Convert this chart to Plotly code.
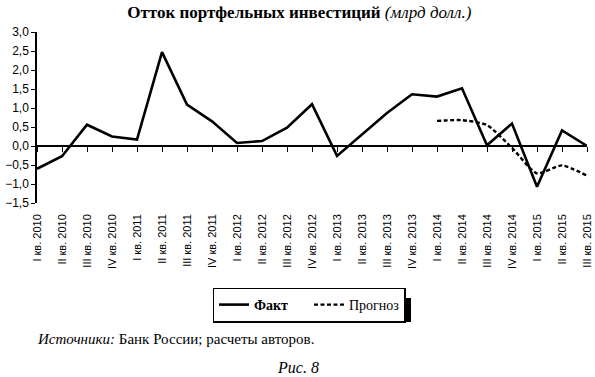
import plotly.graph_objects as go

quarters = ["I кв. 2010", "II кв. 2010", "III кв. 2010", "IV кв. 2010",
            "I кв. 2011", "II кв. 2011", "III кв. 2011", "IV кв. 2011",
            "I кв. 2012", "II кв. 2012", "III кв. 2012", "IV кв. 2012",
            "I кв. 2013", "II кв. 2013", "III кв. 2013", "IV кв. 2013",
            "I кв. 2014", "II кв. 2014", "III кв. 2014", "IV кв. 2014",
            "I кв. 2015", "II кв. 2015", "III кв. 2015"]
fact = [-0.6, -0.27, 0.56, 0.25, 0.17, 2.47, 1.09, 0.65, 0.08, 0.13, 0.48, 1.1,
        -0.26, 0.3, 0.87, 1.36, 1.3, 1.52, 0.02, 0.59, -1.07, 0.41, 0.0]
forecast_q = quarters[16:]
forecast = [0.66, 0.68, 0.55, -0.05, -0.72, -0.51, -0.78]
yticks = [-1.5, -1.0, -0.5, 0.0, 0.5, 1.0, 1.5, 2.0, 2.5, 3.0]

SERIF = "Liberation Serif, Times New Roman, serif"
SANS = "Liberation Sans, Arial, sans-serif"

fig = go.Figure()
# invisible carrier trace so that the category labels axis is drawn
fig.add_trace(go.Scatter(x=quarters, y=fact, mode="lines", showlegend=False,
                         hoverinfo="skip", opacity=0, line=dict(width=0)))
fig.add_trace(go.Scatter(x=quarters, y=fact, mode="lines",
                         name="<b>Факт</b>",
                         line=dict(color="black", width=2.6), xaxis="x2"))
fig.add_trace(go.Scatter(x=forecast_q, y=forecast, mode="lines", name="Прогноз",
                         line=dict(color="black", width=2.4, dash="4px,2.5px", shape="spline", smoothing=0.6),
                         xaxis="x2"))

fig.update_layout(
    width=595, height=377,
    margin=dict(l=37, r=8, t=32, b=174, autoexpand=False),
    paper_bgcolor="white", plot_bgcolor="white",
    separators=", ",
    showlegend=True,
    title=dict(text="<b>Отток портфельных инвестиций</b> <i>(млрд долл.)</i>",
               x=0.503, xanchor="center", y=0.968, yanchor="middle",
               font=dict(family=SERIF, size=17, color="black")),
    xaxis=dict(type="category", categoryorder="array", categoryarray=quarters,
               tickmode="array", tickvals=quarters, ticktext=quarters,
               range=[0, len(quarters) - 1], showline=False, ticks="",
               showgrid=False, zeroline=False, tickangle=-90, automargin=False,
               ticklabelstandoff=8,
               tickfont=dict(family=SANS, size=11, color="black")),
    xaxis2=dict(type="category", categoryorder="array", categoryarray=quarters,
                range=[0, len(quarters) - 1], overlaying="x", anchor="free", position=1/3,
                side="bottom", showline=True, linecolor="black", linewidth=1.5,
                ticks="outside", ticklen=5, tickwidth=1.3, tickcolor="black",
                showticklabels=False, showgrid=False, zeroline=False, automargin=False),
    yaxis=dict(range=[-1.5, 3.0], tickmode="array", tickvals=yticks,
               tickformat=".1f", showline=True, linecolor="black", linewidth=1.5,
               ticks="outside", ticklen=4, tickwidth=1.3, tickcolor="black",
               showgrid=False, zeroline=False, automargin=False,
               tickfont=dict(family=SANS, size=12, color="black")),
    legend=dict(orientation="h", x=(309 - 37) / 550, xanchor="center", y=(203 - 305) / 171,
                yanchor="middle",
                bordercolor="black", borderwidth=1.5, bgcolor="white",
                entrywidth=50, entrywidthmode="pixels",
                font=dict(family=SERIF, size=14, color="black")),
)

# legend shadow
fig.add_shape(type="rect", xref="paper", yref="paper",
              x0=(220 - 37) / 550, x1=(411 - 37) / 550,
              y0=(203 - 322) / 171, y1=(203 - 298) / 171,
              fillcolor="black", line=dict(width=0), layer="below")

fig.add_annotation(text="<i>Источники:</i> Банк России; расчеты авторов.",
                   xref="paper", yref="paper", x=(35 - 37) / 550, xanchor="left",
                   y=(203 - 339) / 171, yanchor="middle", showarrow=False,
                   font=dict(family=SERIF, size=15, color="black"))
fig.add_annotation(text="<i>Рис. 8</i>",
                   xref="paper", yref="paper", x=(298 - 37) / 550, xanchor="center",
                   y=(203 - 367) / 171, yanchor="middle", showarrow=False,
                   font=dict(family=SERIF, size=16, color="black"))

fig.write_html("out.html", config={"displayModeBar": False},
               post_script="document.body.style.margin='0';document.body.style.padding='0';")
